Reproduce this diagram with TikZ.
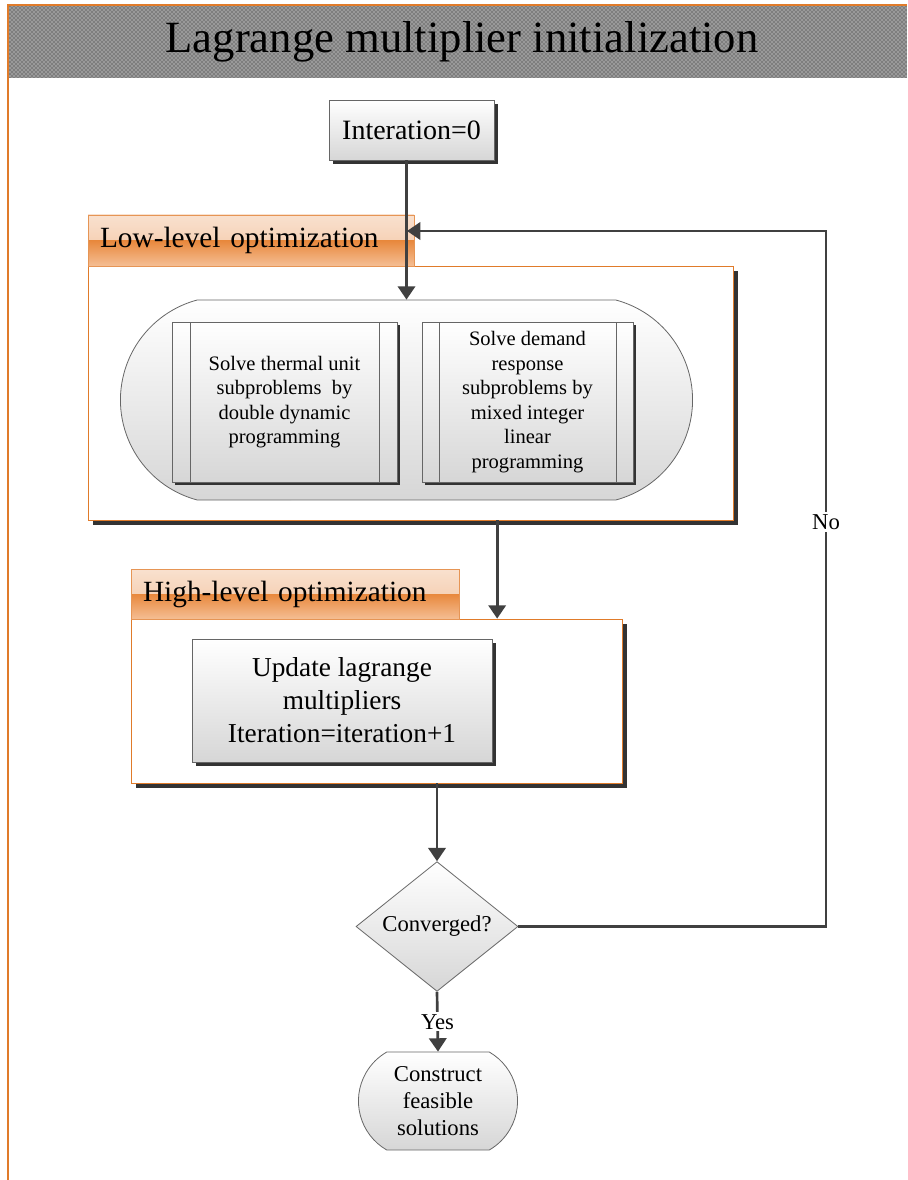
\documentclass[tikz,border=0pt]{standalone}
\usepackage{fontspec}
\setmainfont{Liberation Serif}
\usetikzlibrary{positioning,arrows.meta,shapes.geometric,shapes.misc,shadows,patterns}

\definecolor{frameorange}{HTML}{E07B2A}
\definecolor{flowgray}{HTML}{404040}
\definecolor{tabA}{HTML}{F9E1CF}
\definecolor{tabB}{HTML}{F3C39F}
\definecolor{tabC}{HTML}{E8883C}
\definecolor{tabD}{HTML}{F5BE94}

\begin{document}
\begin{tikzpicture}
        [
            x = 0.75pt, y = -0.75pt,
            boxed/.style      = {shape=rectangle, draw=black!60, line width=0.6pt, align=center,
                                 top color=white, bottom color=black!16, inner sep=2pt},
            shadowed/.style   = {drop shadow={fill=black!80, opacity=1, shadow xshift=#1, shadow yshift=-#1}},
            shadowed/.default = 3pt,
            procbox/.style    = {boxed, font=\fontsize{15.4}{18.4}\selectfont,
                                 path picture={
                                   \draw [black!60, line width=0.6pt] ([xshift=#1]path picture bounding box.north west) -- ([xshift=#1]path picture bounding box.south west);
                                   \draw [black!60, line width=0.6pt] ([xshift=-#1]path picture bounding box.north east) -- ([xshift=-#1]path picture bounding box.south east);
                                 }},
            panel/.style      = {shape=rectangle, draw=frameorange, line width=0.6pt, fill=white, shadowed=3.5pt},
            tab/.style        = {shape=rectangle, draw=frameorange!80, line width=0.5pt, align=left,
                                 inner xsep=9pt, font=\fontsize{22}{26}\selectfont,
                                 path picture={
                                   \shade [top color=tabA, bottom color=tabB] (path picture bounding box.north west) rectangle (path picture bounding box.east);
                                   \shade [top color=tabC, bottom color=tabD] (path picture bounding box.west) rectangle (path picture bounding box.south east);
                                 }},
            pill/.style       = {shape=rounded rectangle, draw=black!60, line width=0.6pt, align=center,
                                 top color=white, bottom color=black!16},
            decision/.style   = {shape=diamond, draw=black!60, line width=0.6pt, align=center, inner sep=0pt,
                                 top color=white, bottom color=black!16, font=\fontsize{17}{20}\selectfont},
            flow/.style       = {draw=flowgray, line width=2pt, -{Triangle[width=13pt, length=10pt]}},
            answer/.style     = {fill=white, inner sep=1.5pt, font=\fontsize{17}{20}\selectfont},
        ]
        \useasboundingbox (0,0) rectangle (907,1180);

        \fill [black!40] (9,6) rectangle (907,78);
        \fill [pattern=crosshatch dots, pattern color=black!85] (9,6) rectangle (907,78);
        \draw [frameorange, line width=1pt] (8,1180) -- (8,5) -- (907,5);
        \node [font=\fontsize{33.5}{38}\selectfont] (title) at (462,42) {Lagrange multiplier initialization};

        \node [boxed, shadowed, minimum width=123.75pt, minimum height=45pt,
               font=\fontsize{21}{25}\selectfont] (init) at (411.5,130) {Interation=0};

        \node [panel, minimum width=483.75pt, minimum height=190.5pt] (lowpanel) at (410.5,393) {};
        \node [tab, minimum width=244.5pt, minimum height=38.25pt, text width=226.5pt] (lowtab) at (251,240.5) {Low-level optimization};
        \node [pill, rounded rectangle arc length=150, minimum width=435.75pt, minimum height=150pt] (lowpill) at (406.5,400) {};
        \node [procbox=13.5pt, shadowed=2.5pt, minimum width=168.75pt, minimum height=120pt] (thermal) at (284.5,402)
              {Solve thermal unit\\subproblems~ by\\double dynamic\\programming};
        \node [procbox=12.75pt, shadowed=2.5pt, minimum width=158.25pt, minimum height=120pt] (demand) at (527.5,402)
              {Solve demand\\response\\subproblems by\\mixed integer\\linear\\programming};

        \node [panel, minimum width=368.25pt, minimum height=123pt] (highpanel) at (376.5,701) {};
        \node [tab, minimum width=246pt, minimum height=37.5pt, text width=228pt] (hightab) at (295,594) {High-level optimization};
        \node [boxed, shadowed, minimum width=225pt, minimum height=92.25pt, font=\fontsize{20.5}{24.75}\selectfont] (update) at (342,700.5)
              {Update lagrange\\multipliers\\Iteration=iteration+1};

        \node [decision, minimum width=121.5pt, minimum height=92.25pt] (conv) at (437,926.5) {Converged?};
        \node [pill, rounded rectangle arc length=120, minimum width=126pt, minimum height=73.5pt,
               font=\fontsize{17}{20.25}\selectfont] (final) at (438,1101) {Construct\\feasible\\solutions};

        \coordinate (loopturn) at (826,231);
        \coordinate (loopin) at (407,231);

        \draw [flow] (init.south -| lowpill.north) -- (lowpill.north);
        \draw [flow] ([xshift=65pt]lowpanel.south) -- ([xshift=65pt]lowpanel.south |- highpanel.north);
        \draw [flow] (highpanel.south -| conv.north) -- (conv.north);
        \draw [flow] (conv.south) -- node [answer] {Yes} (final.north);
        \draw [flow] (conv.east) -| (loopturn) -- (loopin);
        \node [answer] (nolabel) at (826,522) {No};
\end{tikzpicture}
\end{document}
